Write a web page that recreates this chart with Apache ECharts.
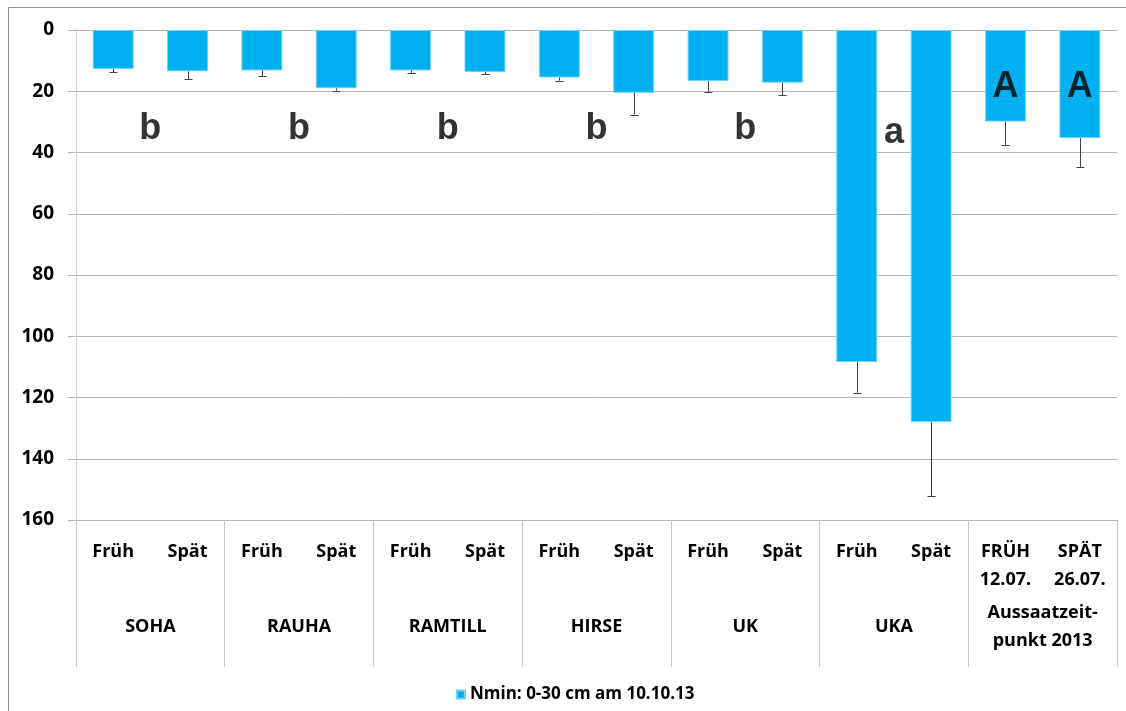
<!DOCTYPE html>
<html>
<head>
<meta charset="utf-8">
<script src="https://cdn.jsdelivr.net/npm/echarts@6/dist/echarts.min.js"></script>
<style>
html,body{margin:0;padding:0;background:#fff;}
#main{width:1126px;height:711px;}
</style>
</head>
<body>
<div id="main"></div>
<script>
const categories = ['Früh','Spät','Früh','Spät','Früh','Spät','Früh','Spät','Früh','Spät','Früh','Spät','FRÜH\n12.07.','SPÄT\n26.07.'];
const groups = ['SOHA','RAUHA','RAMTILL','HIRSE','UK','UKA','Aussaatzeit-\npunkt 2013'];
const nmin = [12.7,13.5,13.2,19.0,13.2,13.7,15.5,20.5,16.7,17.2,108.4,128.0,29.9,35.3];
const errUp = [1.1,2.6,1.8,0.8,0.8,0.7,1.0,7.1,3.4,4.0,10.0,24.1,7.7,9.4];
const groupLetters = ['b','b','b','b','b','a',''];
const groupLetterY = [32.5,32.5,32.5,32.5,32.5,33.5,32.5];
const barLetters = ['','','','','','','','','','','','','A','A'];
const barLetterY = 18.8;
const yTicks = [0,20,40,60,80,100,120,140,160];
const seriesName = 'Nmin: 0-30 cm am 10.10.13';

const FONT = '"Open Sans", Lato, sans-serif';
const LETTER_FONT = '"Liberation Sans", Arial, sans-serif';
const GRID = '#b5b5b5';

const chart = echarts.init(document.getElementById('main'), null, {renderer:'canvas'});

const groupLetterData = groups.map((g,i)=>({value:[i, groupLetterY[i]], txt: groupLetters[i]})).filter(d=>d.txt);
const barLetterData = barLetters.map((t,i)=>({value:[i, barLetterY], txt:t})).filter(d=>d.txt);

const option = {
  animation:false,
  backgroundColor:'#fff',
  graphic:[{type:'rect', shape:{x:8.5,y:7.5,width:1300,height:900}, style:{fill:'none', stroke:'#8c8c8c', lineWidth:1}, silent:true}],
  legend:{
    data:[seriesName], left:451, top:681, itemWidth:8, itemHeight:8, icon:'rect', itemGap:6,
    textStyle:{fontFamily:FONT, fontWeight:'bold', fontSize:17, color:'#000'}
  },
  grid:{left:76, right:9, top:30, bottom:191, containLabel:false},
  xAxis:[
    {type:'category', data:categories, position:'bottom',
     axisLine:{show:true, onZero:false, lineStyle:{color:GRID}},
     axisTick:{show:false},
     axisLabel:{interval:0, margin:18, fontFamily:FONT, fontWeight:'bold', fontSize:18, lineHeight:28, color:'#000'}},
    {type:'category', data:groups, position:'bottom',
     axisLine:{show:false, onZero:false},
     axisTick:{show:true, interval:0, length:147, lineStyle:{color:'#c8c8c8'}},
     axisLabel:{interval:0, margin:107, verticalAlign:'middle', fontFamily:FONT, fontWeight:'bold', fontSize:18, lineHeight:28, color:'#000'}}
  ],
  yAxis:{type:'value', inverse:true, min:0, max:160, interval:20,
    axisLine:{show:true, lineStyle:{color:'#cfcfcf'}},
    axisTick:{show:true, length:8, lineStyle:{color:GRID}},
    splitLine:{show:true, lineStyle:{color:GRID}},
    axisLabel:{margin:22, fontFamily:FONT, fontWeight:'bold', fontSize:19, color:'#000',
      formatter:v=>yTicks.includes(v)?String(v):''}
  },
  series:[
    {name:seriesName, type:'bar', data:nmin, barWidth:'55%', xAxisIndex:0,
     itemStyle:{color:'#00B0F0', borderColor:'#6fd3f7', borderWidth:1}},
    {type:'custom', xAxisIndex:0, silent:true, z:5,
     data:nmin.map((v,i)=>[i, v, v+errUp[i]]),
     renderItem:function(params, api){
       const p0 = api.coord([api.value(0), api.value(1)]);
       const p1 = api.coord([api.value(0), api.value(2)]);
       const x = Math.round(p0[0])+0.5;
       const cap = 4;
       return {type:'group', children:[
         {type:'line', shape:{x1:x, y1:p0[1], x2:x, y2:p1[1]}, style:{stroke:'#404040', lineWidth:1}},
         {type:'line', shape:{x1:x-cap, y1:Math.round(p1[1])+0.5, x2:x+cap, y2:Math.round(p1[1])+0.5}, style:{stroke:'#404040', lineWidth:1}}
       ]};
     }},
    {type:'scatter', xAxisIndex:1, symbolSize:0, silent:true, z:6,
     data:groupLetterData,
     label:{show:true, position:'inside', formatter:p=>p.data.txt, fontFamily:LETTER_FONT, fontWeight:'bold', fontSize:36, color:'#000', textBorderWidth:0}},
    {type:'scatter', xAxisIndex:0, symbolSize:0, silent:true, z:6,
     data:barLetterData,
     label:{show:true, position:'inside', formatter:p=>p.data.txt, fontFamily:LETTER_FONT, fontWeight:'bold', fontSize:36, color:'#000', textBorderWidth:0}}
  ]
};
chart.setOption(option);
</script>
</body>
</html>
